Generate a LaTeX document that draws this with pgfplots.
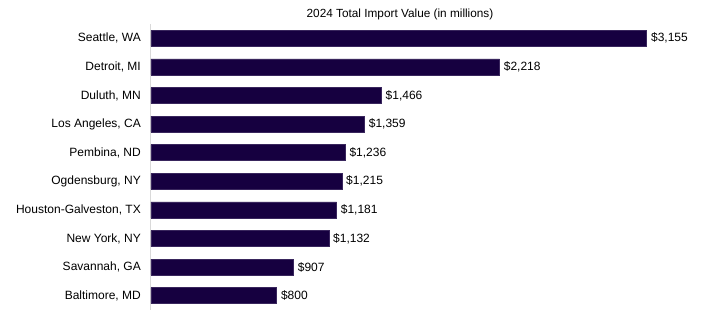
\documentclass[border=0pt]{standalone}
\usepackage{pgfplots}
\pgfplotsset{compat=1.18}
\usepackage{fontspec}
\setmainfont{Liberation Sans}
\definecolor{barc}{RGB}{22,0,64}
\pgfplotstableread{
idx val
0 3155
1 2218
2 1466
3 1359
4 1236
5 1215
6 1181
7 1132
8 907
9 800
}\ports
\begin{document}
\begin{tikzpicture}[x=1pt,y=1pt]
\useasboundingbox (0,0) rectangle (702,321);
\node[font=\fontsize{11.8}{13}\selectfont] at (400,307) {2024 Total Import Value (in millions)};
\begin{axis}[
  at={(151pt,11pt)}, anchor=south west,
  scale only axis, width=550pt, height=286pt,
  xmin=0, xmax=3500, ymin=-0.5, ymax=9.5,
  y dir=reverse,
  xbar, bar width=16pt,
  axis x line=none,
  axis y line=left,
  y axis line style={-, draw=black!15, line width=1pt},
  ytick={0,...,9},
  yticklabels={{Seattle, WA},{Detroit, MI},{Duluth, MN},{Los Angeles, CA},{Pembina, ND},{Ogdensburg, NY},{Houston-Galveston, TX},{New York, NY},{Savannah, GA},{Baltimore, MD}},
  major tick length=0pt,
  yticklabel style={font=\fontsize{12}{14}\selectfont, anchor=east, inner sep=0pt, xshift=-10pt},
  /pgf/number format/assume math mode=true,
  nodes near coords={\$\pgfmathprintnumber[1000 sep={,},assume math mode=true]{\pgfplotspointmeta}},
  nodes near coords style={font=\fontsize{12}{14}\selectfont, anchor=west, inner sep=0pt, xshift=4pt},
  clip=false,
]
\addplot[fill=barc, draw=barc!85!white, line width=0.6pt] table[x=val, y=idx] {\ports};
\end{axis}
\end{tikzpicture}
\end{document}
